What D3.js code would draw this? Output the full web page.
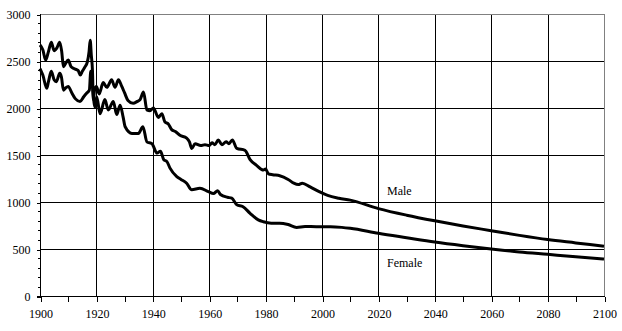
<!DOCTYPE html>
<html>
<head>
<meta charset="utf-8">
<script src="https://cdn.jsdelivr.net/npm/d3@7"></script>
<style>
  body { margin: 0; background: #fff; }
  svg text { font-family: "Liberation Serif", "Times New Roman", "DejaVu Serif", serif; font-size: 12px; fill: #000; }
</style>
</head>
<body>
<div class="chart"></div>
<script>
// values
const maleYears = [1900, 1901, 1902, 1903, 1904, 1905, 1906, 1907, 1907.7, 1908.3, 1909, 1910, 1911, 1912, 1913.5, 1914.3, 1915, 1916, 1916.8, 1917.4, 1917.8, 1918.2, 1918.6, 1918.9, 1919.4, 1920, 1921, 1922.4, 1923.7, 1925.4, 1926.6, 1927.8, 1929, 1930, 1931.2, 1933, 1934.5, 1935.5, 1936.7, 1937.9, 1939, 1940.2, 1942, 1943.2, 1944.3, 1945.5, 1946.7, 1948, 1949.6, 1952, 1953, 1953.8, 1955, 1957, 1958.5, 1960, 1961, 1962, 1963.2, 1964.5, 1966, 1967, 1968.2, 1969.8, 1972.7, 1974.5, 1976.8, 1979.2, 1980, 1981, 1982.5, 1985, 1988, 1990, 1991.6, 1993, 1995.8, 1999, 2002, 2006, 2010, 2020, 2030, 2040, 2050, 2060, 2070, 2080, 2090, 2100];
const maleValues = [2670, 2620, 2510, 2600, 2700, 2610, 2640, 2700, 2600, 2440, 2470, 2510, 2440, 2420, 2400, 2350, 2390, 2440, 2490, 2600, 2720, 2560, 2400, 2090, 2200, 2230, 2150, 2270, 2220, 2300, 2220, 2300, 2230, 2160, 2080, 2050, 2070, 2090, 2170, 1980, 1970, 2000, 1900, 1940, 1850, 1830, 1770, 1750, 1710, 1680, 1640, 1570, 1620, 1600, 1610, 1600, 1630, 1610, 1660, 1610, 1640, 1620, 1660, 1570, 1550, 1450, 1390, 1340, 1350, 1300, 1290, 1280, 1240, 1200, 1185, 1200, 1160, 1110, 1070, 1040, 1020, 930, 860, 800, 745, 695, 645, 600, 565, 530];

const femaleYears = [1900, 1901, 1902.4, 1903, 1904, 1905, 1905.8, 1907, 1907.6, 1908.3, 1909, 1910, 1911.3, 1912.5, 1914.2, 1915.5, 1916.6, 1917.5, 1918, 1918.5, 1919.5, 1920.1, 1921.3, 1923, 1924.2, 1926, 1927.2, 1928.4, 1929.5, 1930.2, 1932.6, 1934.9, 1936.5, 1937.9, 1939.7, 1941.5, 1942.7, 1943.9, 1945, 1946.1, 1948.5, 1950, 1952, 1953.8, 1956.7, 1959.7, 1961.5, 1963, 1964, 1966.5, 1968, 1969.8, 1972, 1974.5, 1977.4, 1979.2, 1982, 1985, 1988, 1991, 1994, 1998, 2003, 2007, 2010, 2020, 2030, 2040, 2050, 2060, 2070, 2080, 2090, 2100];
const femaleValues = [2420, 2350, 2210, 2280, 2390, 2300, 2280, 2370, 2330, 2190, 2210, 2230, 2160, 2100, 2070, 2120, 2160, 2190, 2390, 2260, 2010, 2120, 1940, 2090, 1980, 2070, 1930, 2030, 1900, 1800, 1730, 1730, 1800, 1640, 1620, 1520, 1540, 1450, 1430, 1360, 1270, 1240, 1200, 1130, 1145, 1110, 1090, 1120, 1080, 1050, 1040, 970, 950, 880, 810, 790, 775, 775, 760, 730, 740, 737, 737, 730, 720, 667, 620, 574, 535, 500, 468, 443, 418, 394];

const xTicks = [1900, 1920, 1940, 1960, 1980, 2000, 2020, 2040, 2060, 2080, 2100];
const yTicks = [0, 500, 1000, 1500, 2000, 2500, 3000];

const width = 622, height = 331;
const plotLeft = 40, plotRight = 604, plotTop = 14, plotBottom = 296;
const serif = '"Liberation Serif", "Times New Roman", serif';

const svg = d3.select(".chart").append("svg")
    .attr("width", width)
    .attr("height", height);

const x = d3.scaleLinear().domain([1900, 2100]).range([plotLeft, plotRight]);
const y = d3.scaleLinear().domain([0, 3000]).range([plotBottom, plotTop]);

const crisp = v => Math.round(v) + 0.5;

// grid lines
const grid = svg.append("g").attr("shape-rendering", "crispEdges");
grid.selectAll(".hg")
    .data(yTicks.filter(d => d > 0 && d < 3000))
    .enter().append("line")
    .attr("x1", plotLeft).attr("x2", plotRight)
    .attr("y1", d => crisp(y(d))).attr("y2", d => crisp(y(d)))
    .attr("stroke", "#000");
grid.selectAll(".vg")
    .data(xTicks.filter(d => d > 1900 && d < 2100))
    .enter().append("line")
    .attr("y1", plotTop).attr("y2", plotBottom)
    .attr("x1", d => crisp(x(d))).attr("x2", d => crisp(x(d)))
    .attr("stroke", "#000");

// grey frame top and right
grid.append("path")
    .attr("d", `M${plotLeft},${crisp(plotTop)}H${crisp(plotRight)}V${plotBottom}`)
    .attr("fill", "none")
    .attr("stroke", "#808080");

// y axis
const yAxis = d3.axisLeft(y)
    .tickValues(yTicks)
    .tickSize(4)
    .tickPadding(6)
    .tickFormat(d3.format("d"));
const gy = svg.append("g").attr("transform", `translate(${crisp(plotLeft)},0.5)`).call(yAxis);
gy.attr("font-family", serif).attr("font-size", 12);
gy.select(".domain").remove();
gy.selectAll(".tick line").attr("stroke", "#000");
gy.append("line").attr("y1", plotTop - 0.5).attr("y2", plotBottom + 0.5).attr("stroke", "#000");
gy.selectAll(".minor")
    .data(d3.range(100, 3000, 100).filter(d => d % 500 !== 0))
    .enter().append("line")
    .attr("x1", -3).attr("x2", 0)
    .attr("y1", d => Math.round(y(d))).attr("y2", d => Math.round(y(d)))
    .attr("stroke", "#000");
gy.attr("shape-rendering", "crispEdges");

// x axis
const xAxis = d3.axisBottom(x)
    .tickValues(xTicks)
    .tickSize(5)
    .tickPadding(8)
    .tickFormat(d3.format("d"));
const gx = svg.append("g").attr("transform", `translate(0.5,${crisp(plotBottom)})`).call(xAxis);
gx.attr("font-family", serif).attr("font-size", 12);
gx.select(".domain").remove();
gx.selectAll(".tick line").attr("stroke", "#000");
gx.append("line").attr("x1", plotLeft - 4).attr("x2", plotRight + 0.5).attr("stroke", "#000");
gx.selectAll(".minor")
    .data(d3.range(1910, 2100, 20))
    .enter().append("line")
    .attr("x1", d => Math.round(x(d))).attr("x2", d => Math.round(x(d)))
    .attr("y1", 0).attr("y2", 5)
    .attr("stroke", "#000");
gx.attr("shape-rendering", "crispEdges");

// series
const line = d3.line()
    .x(d => x(d[0]))
    .y(d => y(d[1]))
    .curve(d3.curveMonotoneX);

svg.append("path")
    .datum(d3.zip(maleYears, maleValues))
    .attr("d", line)
    .attr("fill", "none")
    .attr("stroke", "#000")
    .attr("stroke-width", 3)
    .attr("stroke-linejoin", "round");

svg.append("path")
    .datum(d3.zip(femaleYears, femaleValues))
    .attr("d", line)
    .attr("fill", "none")
    .attr("stroke", "#000")
    .attr("stroke-width", 3)
    .attr("stroke-linejoin", "round");

// labels
svg.append("text").attr("x", 387).attr("y", 195).attr("font-family", serif).text("Male");
svg.append("text").attr("x", 387).attr("y", 267).attr("font-family", serif).text("Female");
</script>
</body>
</html>
